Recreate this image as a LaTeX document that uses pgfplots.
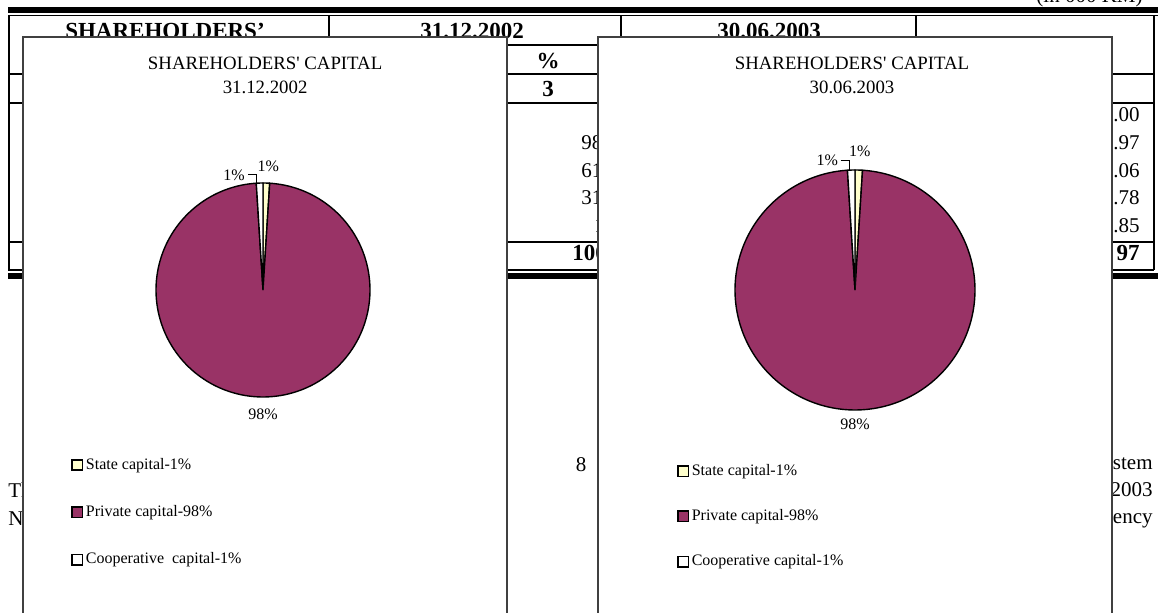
\documentclass[border=0pt]{standalone}
\usepackage{fontspec}
\setmainfont{Liberation Serif}
\usepackage{pgfplots}
\usepackage{pgfplotstable}
\pgfplotsset{compat=1.18}

\definecolor{privateplum}{HTML}{993366}
\definecolor{stateyellow}{HTML}{FFFFCC}
\definecolor{framegray}{HTML}{404040}

% Structure of shareholders' capital, in % (State, Private, Cooperative)
\pgfplotstableread{
sector share
State 1
Private 98
Cooperative 1
}\capitalDec
\pgfplotstableread{
sector share
State 1
Private 98
Cooperative 1
}\capitalJun

% Slice boundaries, clockwise from 12 o'clock
\newcommand\sliceangles[1]{%
  \pgfplotstablegetelem{0}{share}\of#1\pgfmathsetmacro\shA{\pgfplotsretval}%
  \pgfplotstablegetelem{1}{share}\of#1\pgfmathsetmacro\shB{\pgfplotsretval}%
  \pgfplotstablegetelem{2}{share}\of#1\pgfmathsetmacro\shC{\pgfplotsretval}%
  \pgfmathsetmacro\shT{\shA+\shB+\shC}%
  \pgfmathsetmacro\angA{90}%
  \pgfmathsetmacro\angB{\angA-\shA/\shT*360}%
  \pgfmathsetmacro\angC{\angB-\shB/\shT*360}%
  \pgfmathsetmacro\angD{\angC-\shC/\shT*360}%
}

\pgfplotsset{
  pie/.style={hide axis, scale only axis, anchor=center,
    xmin=-1, xmax=1, ymin=-1, ymax=1, clip=false,
    legend cell align=left,
    legend image code/.code={\draw[##1, draw=black, line width=0.75pt] (0pt,-2.6pt) rectangle (5.2pt,2.6pt);},
    legend style={draw=none, fill=none, anchor=north west,
      font=\fontsize{8}{9}\selectfont, row sep=14pt,
      nodes={inner sep=1.3pt}}},
  slice/.style={draw=black, line width=0.7pt},
}

\newcommand\hdr{\fontsize{11.5}{13}\selectfont\bfseries}
\newcommand\txt{\fontsize{10.5}{12}\selectfont}
\newcommand\ttl{\fontsize{9.4}{12}\selectfont}
\newcommand\lbl{\fontsize{8}{9}\selectfont}

\begin{document}
\begin{tikzpicture}
\useasboundingbox (0,0) rectangle (579pt,-306.5pt);
\clip (0,0) rectangle (579pt,-306.5pt);

% --- page table behind the charts ---
\begin{scope}[x=0.5pt, y=-0.5pt]
  \fill (8,7) rectangle (1158,13);
  \draw[line width=0.8pt] (8,15.5) -- (1158,15.5);
  \draw[line width=1pt] (8.5,15.5) -- (8.5,270) (1154,15.5) -- (1154,270);
  \draw[line width=0.8pt] (329,15.5) -- (329,270) (621,15.5) -- (621,270)
        (916,15.5) -- (916,270) (475,45) -- (475,270);
  \draw[line width=0.8pt] (329,45) -- (916,45);
  \draw[line width=0.8pt] (8,74) -- (1154,74) (8,103) -- (1154,103)
        (8,242) -- (1154,242);
  \draw[line width=1pt] (8,270) -- (1154,270);
  \fill (8,273) rectangle (1158,279);

  \node[anchor=base east, inner sep=0pt, font=\txt] at (1143,3) {(in 000 KM)};
  \node[anchor=base, inner sep=0pt, font=\hdr] at (165,39) {SHAREHOLDERS’};
  \node[anchor=base, inner sep=0pt, font=\hdr] at (472,39) {31.12.2002};
  \node[anchor=base, inner sep=0pt, font=\hdr] at (769,39) {30.06.2003};
  \node[inner sep=0pt, font=\hdr] at (548,61) {\%};
  \node[inner sep=0pt, font=\hdr] at (548,89) {3};

  \foreach \v/\y in {98.53/145, 61.20/173, 31.84/200}
    \node[anchor=mid west, inner sep=0pt, font=\txt] at (581,\y) {\v};
  \node[anchor=mid west, inner sep=0pt, font=\txt] at (594,228) {12.43};
  \node[anchor=mid west, inner sep=0pt, font=\hdr] at (572,256) {100.00};

  \foreach \v/\y in {.00/117, .97/145, .06/173, .78/200, .85/228}
    \node[anchor=mid east, inner sep=0pt, font=\txt] at (1140,\y) {\v};
  \node[anchor=mid east, inner sep=0pt, font=\hdr] at (1140,256) {97};

  \node[anchor=mid west, inner sep=0pt, font=\txt] at (8,493) {The};
  \node[anchor=mid west, inner sep=0pt, font=\txt] at (8,521) {Net};
  \node[inner sep=0pt, font=\txt] at (581,465) {8};
  \node[anchor=mid east, inner sep=0pt, font=\txt] at (1153,465) {stem};
  \node[anchor=mid east, inner sep=0pt, font=\txt] at (1153,492) {2003};
  \node[anchor=mid east, inner sep=0pt, font=\txt] at (1153,519) {ency};

  % chart panels
  \filldraw[fill=white, draw=framegray, line width=0.7pt] (23,37) rectangle (507,650);
  \filldraw[fill=white, draw=framegray, line width=0.7pt] (598,37) rectangle (1112,650);
\end{scope}

% --- 31.12.2002 ---
\sliceangles{\capitalDec}
\begin{axis}[pie, at={(131.5pt,-145pt)}, width=107pt, height=107pt,
  legend style={at={(axis description cs:-0.425,-0.252)}}]
  \addplot[slice, fill=stateyellow, domain=\angB:\angA, samples=8] ({cos(x)},{sin(x)}) -- (0,0) -- cycle;
  \addlegendentry{State capital-1\%}
  \addplot[slice, fill=privateplum, domain=\angC:\angB, samples=240] ({cos(x)},{sin(x)}) -- (0,0) -- cycle;
  \addlegendentry{Private capital-98\%}
  \addplot[slice, fill=white, domain=\angD:\angC, samples=8] ({cos(x)},{sin(x)}) -- (0,0) -- cycle;
  \addlegendentry{Cooperative\ \ capital-1\%}
  \node[align=center, font=\ttl] at (axis cs:0.02,2.01) {SHAREHOLDERS\textquotesingle\ CAPITAL\\31.12.2002};
  \node[font=\lbl, inner sep=0pt] at (axis cs:0.05,1.16) {1\%};
  \node[font=\lbl, inner sep=0pt] at (axis cs:-0.27,1.075) {1\%};
  \draw[line width=0.5pt] (axis cs:-0.14,1.075) -- (axis cs:-0.06,1.075) -- (axis cs:-0.06,0.998);
  \node[font=\lbl, inner sep=0pt] at (axis cs:0,-1.16) {98\%};
\end{axis}

% --- 30.06.2003 ---
\sliceangles{\capitalJun}
\begin{axis}[pie, at={(427.5pt,-145pt)}, width=120pt, height=120pt,
  legend style={at={(axis description cs:-0.267,-0.196)}, row sep=13pt}]
  \addplot[slice, fill=stateyellow, domain=\angB:\angA, samples=8] ({cos(x)},{sin(x)}) -- (0,0) -- cycle;
  \addlegendentry{State capital-1\%}
  \addplot[slice, fill=privateplum, domain=\angC:\angB, samples=240] ({cos(x)},{sin(x)}) -- (0,0) -- cycle;
  \addlegendentry{Private capital-98\%}
  \addplot[slice, fill=white, domain=\angD:\angC, samples=8] ({cos(x)},{sin(x)}) -- (0,0) -- cycle;
  \addlegendentry{Cooperative capital-1\%}
  \node[align=center, font=\ttl] at (axis cs:-0.025,1.79) {SHAREHOLDERS\textquotesingle\ CAPITAL\\30.06.2003};
  \node[font=\lbl, inner sep=0pt] at (axis cs:0.04,1.16) {1\%};
  \node[font=\lbl, inner sep=0pt] at (axis cs:-0.23,1.083) {1\%};
  \draw[line width=0.5pt] (axis cs:-0.12,1.083) -- (axis cs:-0.045,1.083) -- (axis cs:-0.045,0.999);
  \node[font=\lbl, inner sep=0pt] at (axis cs:0,-1.12) {98\%};
\end{axis}
\end{tikzpicture}
\end{document}
